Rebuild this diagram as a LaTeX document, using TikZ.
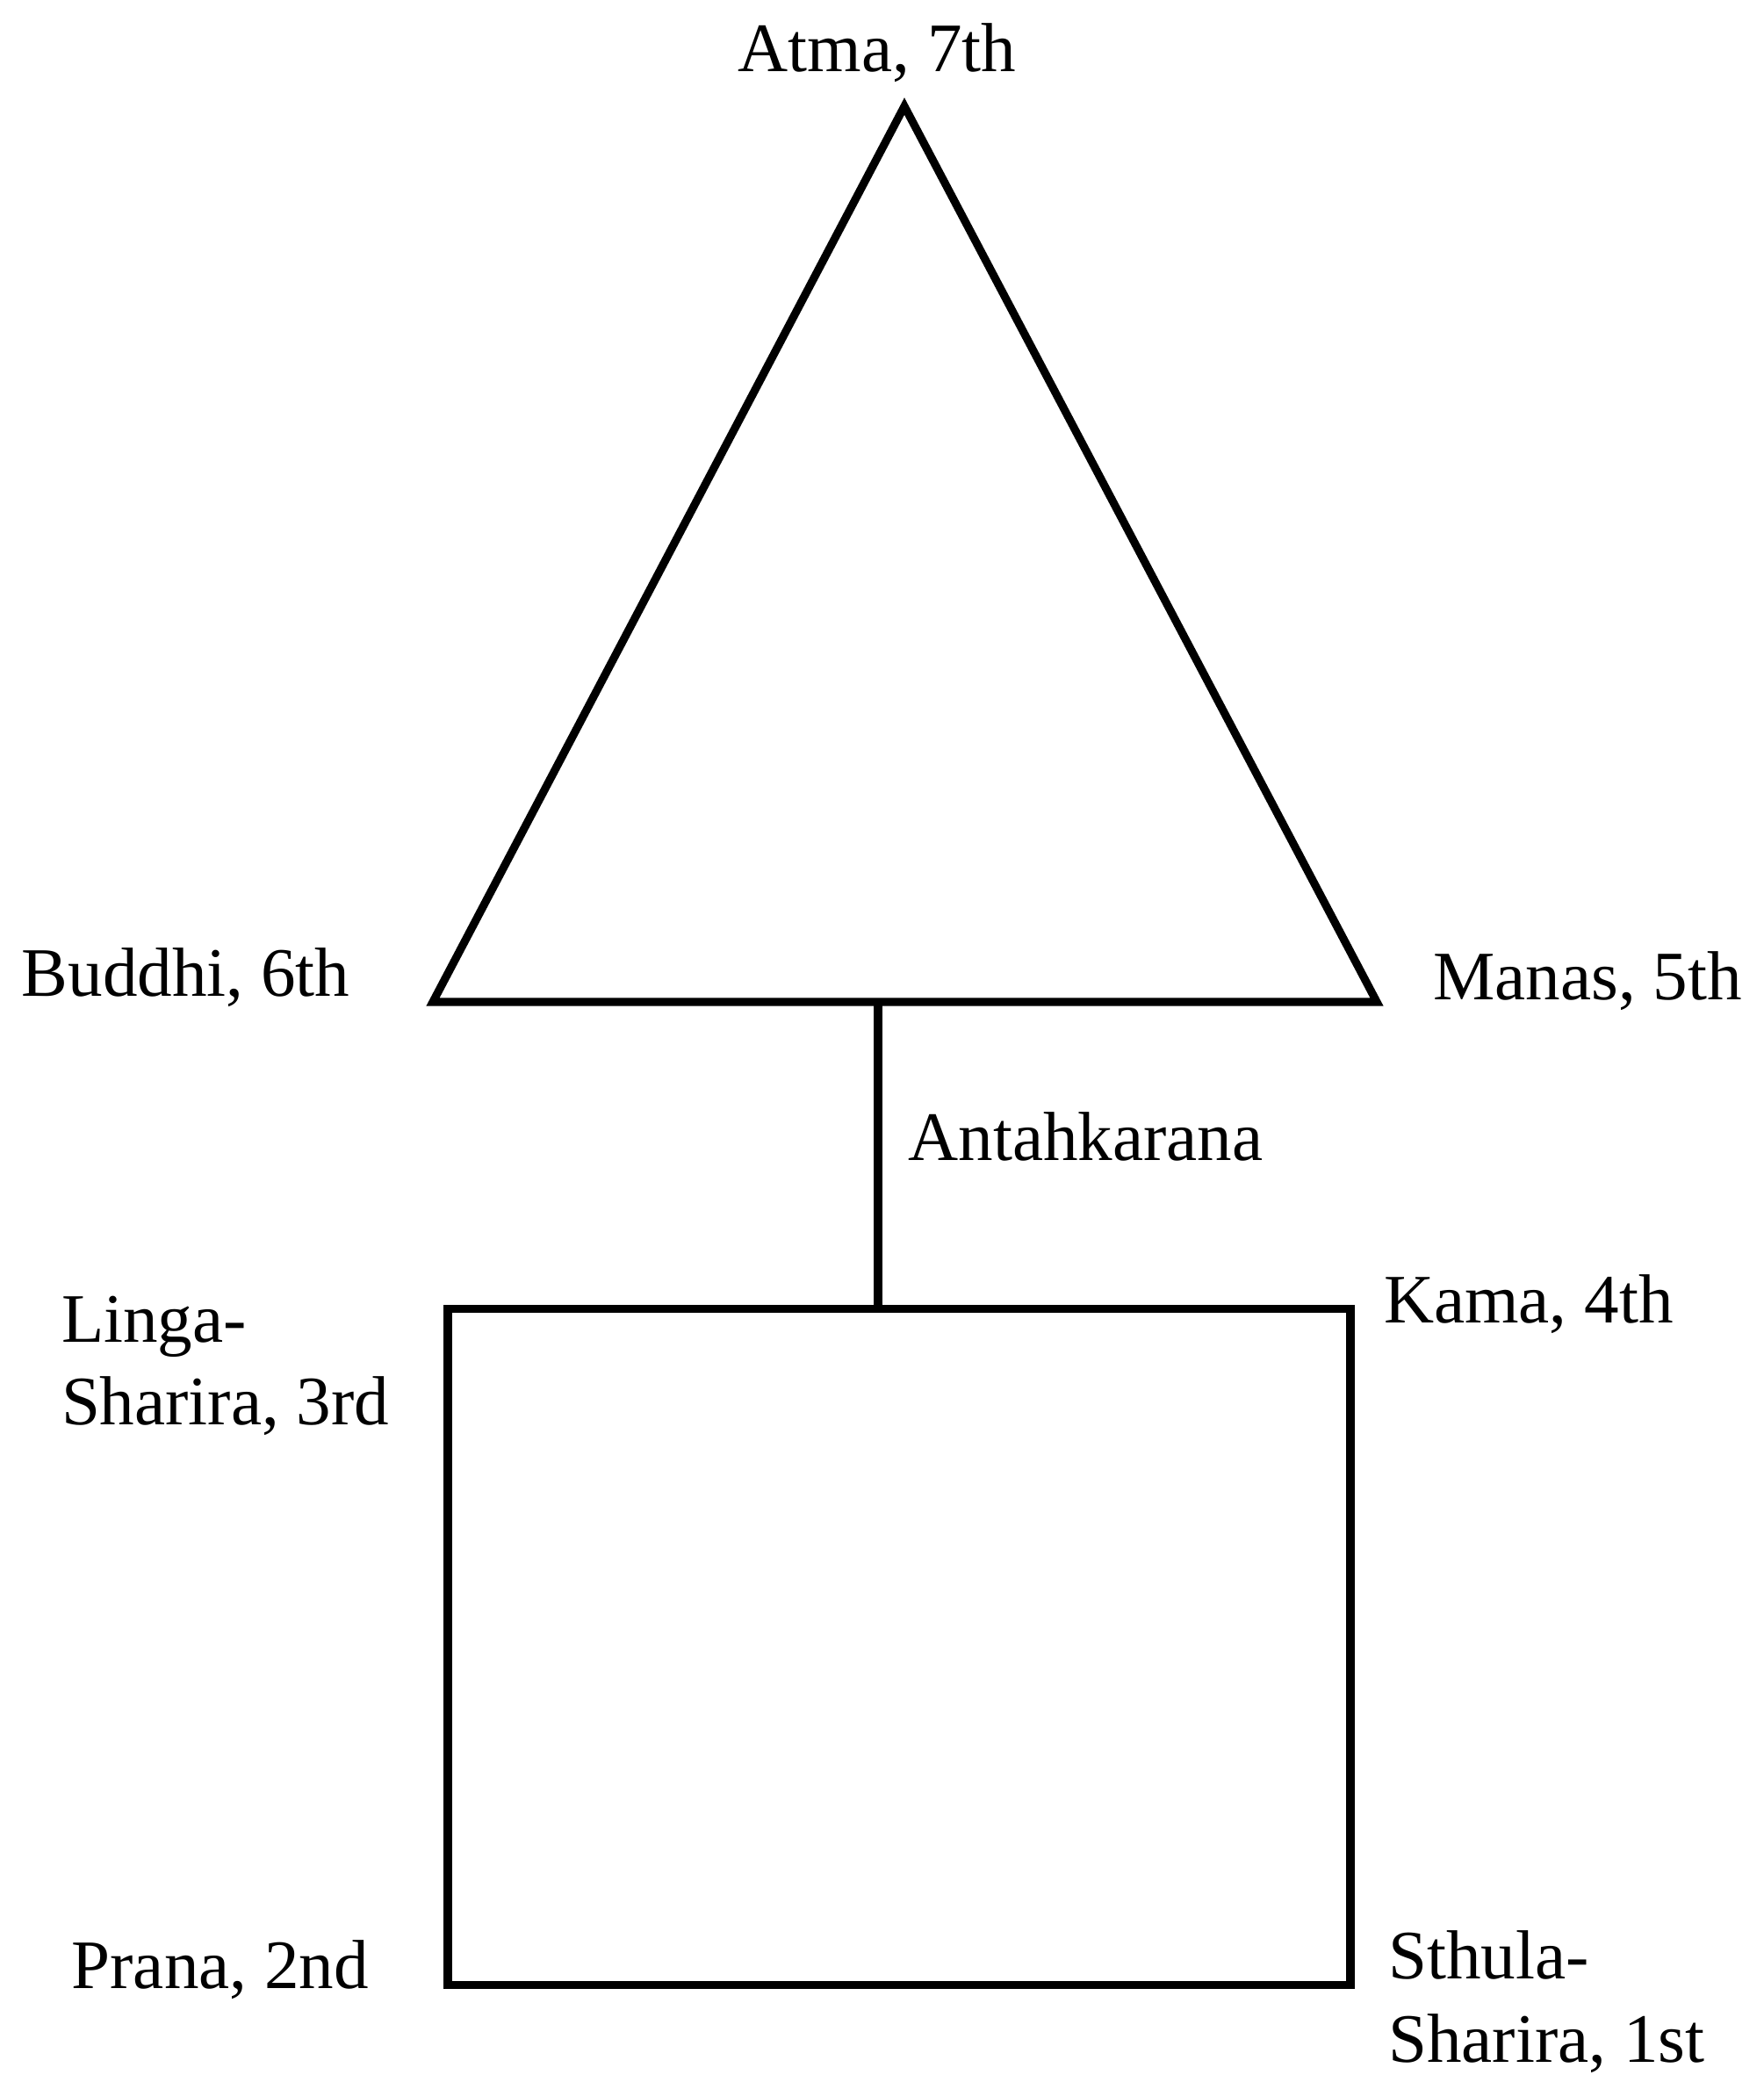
\documentclass[tikz,border=0pt]{standalone}
\usepackage{fontspec}
\setmainfont{Liberation Serif}
\usetikzlibrary{positioning, calc}

\begin{document}
\begin{tikzpicture}[
    line width=2.6pt,
    principle_label/.style={font=\fontsize{22.5}{27}\selectfont, inner sep=0pt, align=left},
    body_box/.style={draw, minimum width=10.28cm, minimum height=7.70cm, inner sep=0pt}
]
    \useasboundingbox (0,0) rectangle (20.08,23.63);

    % UPPER TRIAD
    \coordinate (atma) at (10.30,22.42);
    \coordinate (buddhi) at (4.93,12.22);
    \coordinate (manas) at (15.68,12.22);
    \draw (atma) -- (buddhi) -- (manas) -- cycle;

    \node[principle_label, anchor=base] (l_atma) at (atma) [xshift=-0.31cm, yshift=0.39cm] {Atma, 7th};
    \node[principle_label, anchor=base east] (l_buddhi) at (buddhi) [xshift=-0.90cm, yshift=0.06cm] {Buddhi, 6th};
    \node[principle_label, anchor=base west] (l_manas) at (manas) [xshift=0.60cm, yshift=0.02cm] {Manas, 5th};

    % LOWER QUATERNARY
    \node[body_box] (body) at (10.24,4.875) {};

    \node[principle_label, anchor=base west] (l_linga) at (body.north west) [xshift=-4.40cm, yshift=-1.37cm] {Linga-\\Sharira, 3rd};
    \node[principle_label, anchor=base west] (l_kama) at (body.north east) [xshift=0.29cm, yshift=-0.21cm] {Kama, 4th};
    \node[principle_label, anchor=base east] (l_prana) at (body.south west) [xshift=-0.81cm, yshift=0.01cm] {Prana, 2nd};
    \node[principle_label, anchor=base west] (l_sthula) at (body.south east) [xshift=0.34cm, yshift=-0.83cm] {Sthula-\\Sharira, 1st};

    % BRIDGE
    \coordinate (ak) at (10.00,12.22);
    \draw (ak) -- (ak |- body.north);
    \node[principle_label, anchor=base west] (l_ak) at (ak) [xshift=0.30cm, yshift=-1.81cm] {Antahkarana};

\end{tikzpicture}
\end{document}
